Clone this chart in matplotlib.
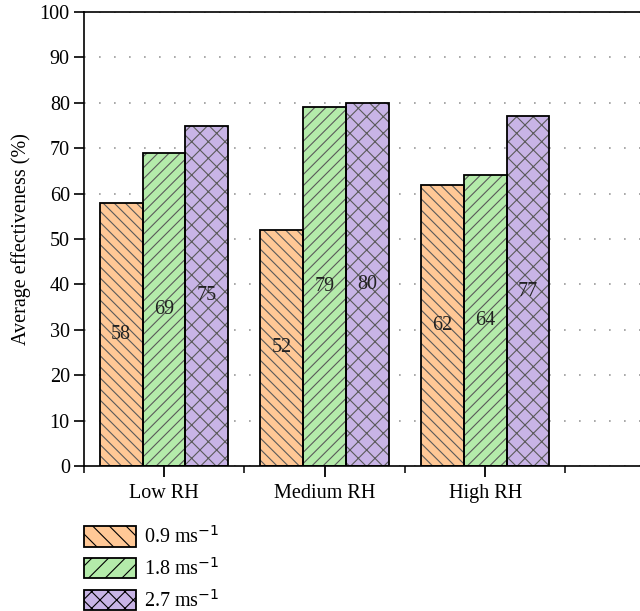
import numpy as np
import matplotlib
matplotlib.use('Agg')
import matplotlib.pyplot as plt
from matplotlib.patches import Patch

plt.rcParams['font.family'] = ['Liberation Serif', 'DejaVu Serif']
plt.rcParams['hatch.linewidth'] = 0.8

categories = ['Low RH', 'Medium RH', 'High RH']
speeds = ['0.9 ms$^{-1}$', '1.8 ms$^{-1}$', '2.7 ms$^{-1}$']
vals_09 = [58, 52, 62]
vals_18 = [69, 79, 64]
vals_27 = [75, 80, 77]
series = [vals_09, vals_18, vals_27]
colors = ['#ffc896', '#b4ebaa', '#c8b4e6']
hatches = ['\\\\\\', '///', 'xx']
hatch_color = '#5a5a5a'
fs = 14.5

fig = plt.figure(figsize=(6.4, 6.11), dpi=100)
# axes runs past the right edge of the figure like in the source picture
ax = fig.add_axes([83.7 / 640, 1 - 466 / 611, (726 - 83.7) / 640, (466 - 12) / 611])

x = np.arange(len(categories))
w = 0.8 / 3
for i, vals in enumerate(series):
    pos = x + (i - 1) * w
    ax.bar(pos, vals, w, color=colors[i], hatch=hatches[i], edgecolor=hatch_color,
           linewidth=0, zorder=2)
    ax.bar(pos, vals, w, fill=False, edgecolor='black', linewidth=1.3, zorder=3)
    for p, v in zip(pos, vals):
        ax.text(p, v / 2, str(v), ha='center', va='center', fontsize=fs, color='#222222', zorder=4)

ax.set_xlim(-0.5, 3.5)
ax.set_ylim(0, 100)
ax.set_yticks(np.arange(0, 101, 10))
ax.set_xticks(x)
ax.set_xticklabels(categories, fontsize=fs)
ax.set_xticks(np.arange(-0.5, 3.6, 1), minor=True)
ax.tick_params(axis='y', labelsize=fs, direction='out', length=7, width=1.2, pad=3)
ax.tick_params(axis='x', which='major', direction='out', length=8, width=1.3, pad=5)
ax.tick_params(axis='x', which='minor', direction='out', length=5, width=1.1)
ax.yaxis.grid(True, linestyle=(0, (1, 8)), color='#999999', linewidth=1.2, zorder=0)
ax.set_axisbelow(True)
for s in ['left', 'bottom', 'top']:
    ax.spines[s].set_linewidth(1.2)
ax.spines['right'].set_visible(False)
ax.set_ylabel('Average effectiveness (%)', fontsize=fs, labelpad=6)

handles = []
for i in range(3):
    handles.append(Patch(facecolor=colors[i], hatch=hatches[i].replace('\\\\\\', '\\\\').replace('///', '//'),
                         edgecolor='black', linewidth=1.3))
leg = fig.legend(handles, speeds, loc='upper left', bbox_to_anchor=(76 / 640, 1 - 518 / 611),
                 frameon=False, fontsize=fs, handlelength=2.6, handleheight=1.2,
                 labelspacing=0.48, handletextpad=0.4, borderaxespad=0)

fig.savefig('out.png', dpi=100)
